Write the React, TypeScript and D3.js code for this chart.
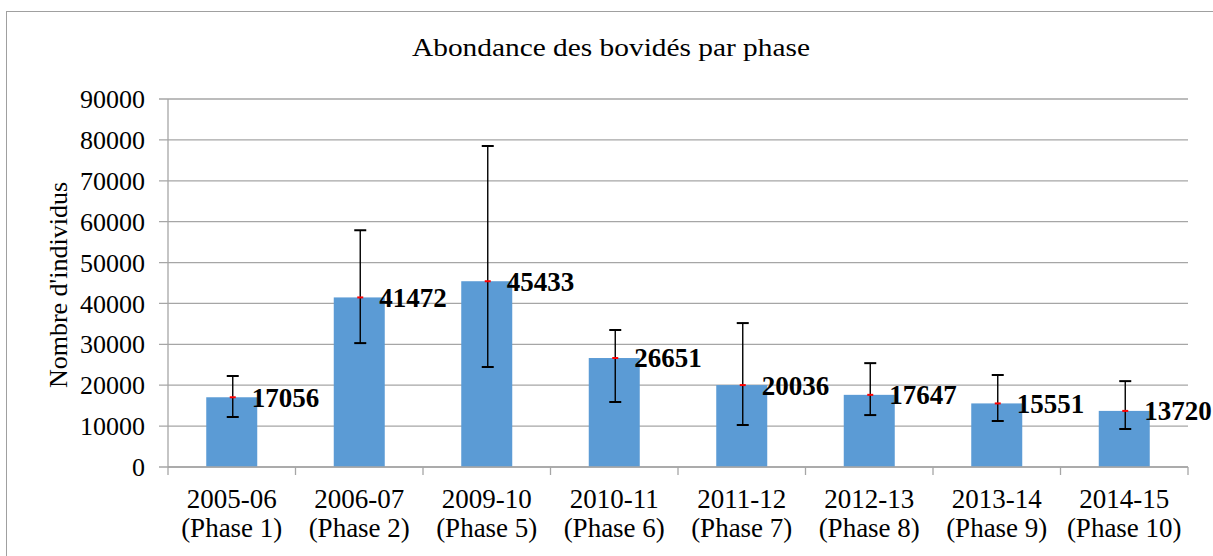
import React from 'react';
import * as d3 from 'd3';

const years = ['2005-06', '2006-07', '2009-10', '2010-11', '2011-12', '2012-13', '2013-14', '2014-15'];
const phases = ['(Phase 1)', '(Phase 2)', '(Phase 5)', '(Phase 6)', '(Phase 7)', '(Phase 8)', '(Phase 9)', '(Phase 10)'];
const values = [17056, 41472, 45433, 26651, 20036, 17647, 15551, 13720];
const errLow = [12230, 30300, 24450, 15900, 10270, 12700, 11250, 9300];
const errHigh = [22250, 57900, 78500, 33500, 35200, 25400, 22500, 21000];
const yTicks = [0, 10000, 20000, 30000, 40000, 50000, 60000, 70000, 80000, 90000];

const width = 1213;
const height = 556;
const left = 168;
const right = 1188;
const top = 99;
const bottom = 467;
const font = '"Liberation Serif", "Times New Roman", serif';
const gridColor = '#a6a6a6';

const x = d3.scaleBand<string>().domain(years).range([left, right]).paddingInner(0.6).paddingOuter(0.3);
const y = d3.scaleLinear().domain([0, 90000]).range([bottom, top]);

export default function App() {
  const step = x.step();
  const bw = x.bandwidth();
  return (
    <svg width={width} height={height} style={{ position: 'absolute', left: 0, top: 0, background: '#fff' }}>
      <rect x={6.5} y={11.5} width={1220} height={560} fill="#fff" stroke="#a0a0a0" />
      <text x={611} y={56} textAnchor="middle" fontFamily={font} fontSize={26}
        textLength={398} lengthAdjust="spacingAndGlyphs">
        Abondance des bovidés par phase
      </text>

      {/* grid + y ticks */}
      {yTicks.map(t => (
        <g key={t}>
          <line x1={left - 9} x2={right} y1={y(t)} y2={y(t)} stroke={gridColor} strokeWidth={1.3} />
          <text x={145} y={y(t)} dy="0.35em" textAnchor="end" fontFamily={font} fontSize={26}>
            {t}
          </text>
        </g>
      ))}
      <line x1={left} x2={left} y1={top} y2={bottom} stroke={gridColor} strokeWidth={1.3} />

      <text transform={`translate(67,${(top + bottom) / 2 + 2}) rotate(-90)`} textAnchor="middle"
        fontFamily={font} fontSize={26}>
        Nombre d'individus
      </text>

      {/* x ticks */}
      {d3.range(years.length + 1).map(i => (
        <line key={i} x1={left + i * step} x2={left + i * step} y1={bottom} y2={bottom + 8}
          stroke={gridColor} strokeWidth={1.3} />
      ))}

      {years.map((c, i) => {
        const cx = (x(c) as number) + bw / 2;
        const ex = cx + 1;
        return (
          <g key={c}>
            <rect x={x(c)} y={y(values[i])} width={bw} height={bottom - y(values[i])} fill="#5b9bd5" />
            <line x1={ex} x2={ex} y1={y(errHigh[i])} y2={y(errLow[i])} stroke="#000" strokeWidth={1.4} />
            <line x1={ex - 6} x2={ex + 6} y1={y(errHigh[i])} y2={y(errHigh[i])} stroke="#000" strokeWidth={2} />
            <line x1={ex - 6} x2={ex + 6} y1={y(errLow[i])} y2={y(errLow[i])} stroke="#000" strokeWidth={2} />
            <line x1={ex - 3} x2={ex + 3} y1={y(values[i])} y2={y(values[i])} stroke="#ff0000" strokeWidth={2} />
            <text x={cx + 20} y={y(values[i])} dy="0.35em" fontFamily={font} fontSize={27} fontWeight="bold">
              {values[i]}
            </text>
            <text x={cx} y={508} textAnchor="middle" fontFamily={font} fontSize={27}>{c}</text>
            <text x={cx} y={537} textAnchor="middle" fontFamily={font} fontSize={27}>{phases[i]}</text>
          </g>
        );
      })}
      <line x1={left} x2={right} y1={bottom} y2={bottom} stroke={gridColor} strokeWidth={1.3} />
    </svg>
  );
}
